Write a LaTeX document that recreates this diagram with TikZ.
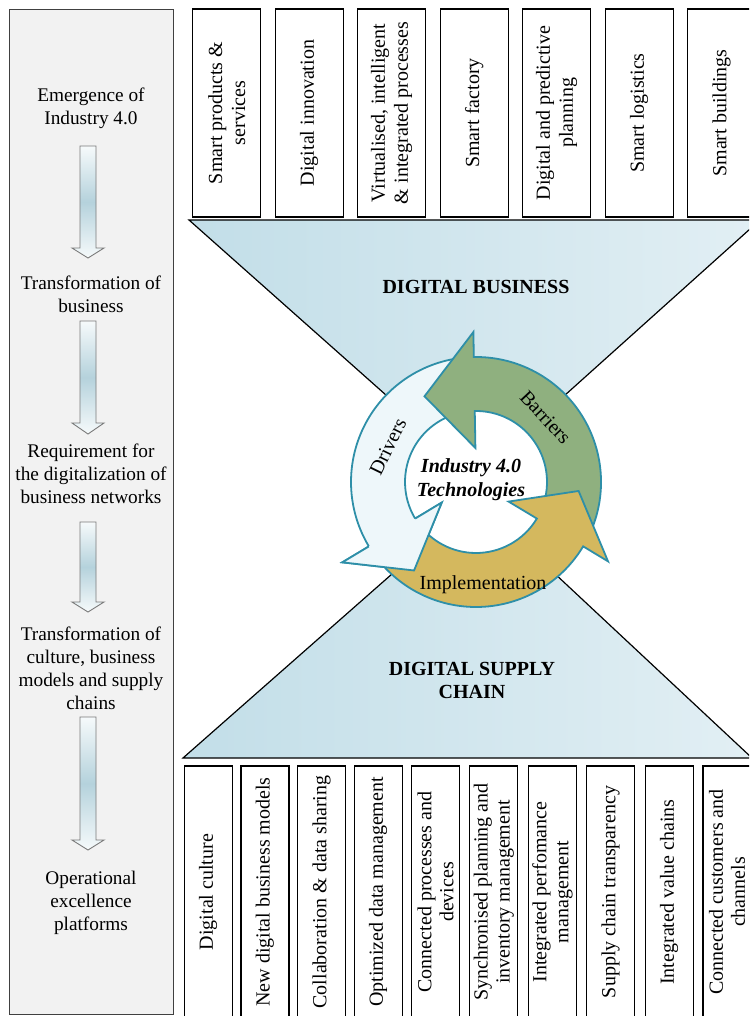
\documentclass[tikz,border=0pt]{standalone}
\usepackage{fontspec}
\setmainfont{Liberation Serif}
\usetikzlibrary{calc}
\definecolor{panelgray}{HTML}{F2F2F2}
\definecolor{panelline}{HTML}{404040}
\definecolor{ringline}{HTML}{2E8FA8}
\definecolor{drvfill}{HTML}{EEF7FA}
\definecolor{barfill}{HTML}{8FB07F}
\definecolor{impfill}{HTML}{D4B85E}
\definecolor{triA}{HTML}{C2DEE8}
\definecolor{triB}{HTML}{E2EFF4}
\definecolor{arrmid}{HTML}{B5D2DC}
\definecolor{arrtop}{HTML}{F6FAFB}
\definecolor{arrline}{HTML}{7A7A7A}
\newcommand\blkarrow[3]{%
  \path[draw=arrline, line width=0.9pt, top color=arrtop, bottom color=arrtop, middle color=arrmid]
    (80,#1) -- (96,#1) -- (96,#2) -- (104,#2) -- (88,#3) -- (72,#2) -- (80,#2) -- cycle;}
\begin{document}
\begin{tikzpicture}[x=1pt,y=-1pt,
  tbox/.style={draw=black, line width=1.3pt, fill=white, rotate=90,
    minimum width=208pt, minimum height=68pt, inner sep=0pt, align=center,
    font=\fontsize{20}{23}\selectfont},
  bbox/.style={draw=black, line width=1.3pt, fill=white, rotate=90,
    minimum width=252pt, minimum height=48pt, inner sep=0pt, align=center,
    font=\fontsize{20}{22}\selectfont},
  lefttext/.style={align=center, inner sep=0pt, font=\fontsize{19.3}{23}\selectfont},
  heading/.style={align=center, inner sep=0pt, font=\fontsize{20}{23}\selectfont\bfseries},
  ringtext/.style={inner sep=0pt, font=\fontsize{20}{23}\selectfont},
  arrowring/.style={draw=ringline, line width=1.8pt},
  triangle/.style={draw=black, line width=1.2pt, left color=triA, right color=triB}
]
\useasboundingbox (0,0) rectangle (749,1016);
\clip (0,0) rectangle (749,1016);

% left panel
\node[draw=panelline, line width=1.2pt, fill=panelgray, minimum width=164pt,
  minimum height=1005pt, anchor=north west, inner sep=0pt] (panel) at (9,9) {};
\node[lefttext] (l1) at (91,108) {Emergence of\\Industry 4.0};
\node[lefttext] (l2) at (91,294) {Transformation of\\business};
\node[lefttext] (l3) at (91,474) {Requirement for\\the digitalization of\\business networks};
\node[lefttext] (l4) at (91,668) {Transformation of\\culture, business\\models and supply\\chains};
\node[lefttext] (l5) at (91,903) {Operational\\excellence\\platforms};
\blkarrow{146}{248}{258}
\blkarrow{321}{423}{434}
\blkarrow{522}{602}{612}
\blkarrow{717}{840}{850}

% hourglass
\path[triangle] (189,220) -- (760,220) -- (476,475) -- cycle;
\path[triangle] (183,758) -- (752,758) -- (476,500) -- cycle;

% top boxes
\node[tbox] (t1) at (226.7,113) {Smart products \&\\services};
\node[tbox] (t2) at (309.2,113) {Digital innovation};
\node[tbox] (t3) at (391.7,113) {Virtualised, intelligent\\\& integrated processes};
\node[tbox] (t4) at (474.2,113) {Smart factory};
\node[tbox] (t5) at (556.7,113) {Digital and predictive\\planning};
\node[tbox] (t6) at (639.2,113) {Smart logistics};
\node[tbox] (t7) at (721.7,113) {Smart buildings};

% bottom boxes
\node[bbox] (b1) at (208.2,892) {Digital culture};
\node[bbox] (b2) at (264.9,892) {New digital business models};
\node[bbox] (b3) at (321.7,892) {Collaboration \& data sharing};
\node[bbox] (b4) at (378.2,892) {Optimized data management};
\node[bbox] (b5) at (435.5,892) {Connected processes and\\devices};
\node[bbox] (b6) at (493.8,892) {Synchronised planning and\\inventory management};
\node[bbox] (b7) at (552.5,892) {Integrated perfomance\\management};
\node[bbox] (b8) at (610.5,892) {Supply chain transparency};
\node[bbox] (b9) at (669.2,892) {Integrated value chains};
\node[bbox] (b10) at (726.9,892) {Connected customers and\\channels};

% headings
\node[heading] (db) at (476,287) {DIGITAL BUSINESS};
\node[heading] (dsc) at (472,680) {DIGITAL SUPPLY\\CHAIN};

% cycle
\coordinate (C) at (476,482);
\fill[white] (C) circle[radius=125];
% Drivers
\path[arrowring, fill=drvfill] ($(C)+(-96:125)$) arc[start angle=-96, end angle=-211, radius=125]
  -- ($(C)+(-211:156)$) -- ($(C)+(-235:108)$) -- ($(C)+(-211:40)$) -- ($(C)+(-211:71)$)
  arc[start angle=-211, end angle=-96, radius=71] -- cycle;
% Barriers
\path[arrowring, fill=barfill] ($(C)+(-334:125)$) arc[start angle=-334, end angle=-451, radius=125]
  -- ($(C)+(-91:150)$) -- ($(C)+(-121:100)$) -- ($(C)+(-91:34)$) -- ($(C)+(-91:71)$)
  arc[start angle=-451, end angle=-334, radius=71] -- cycle;
% Implementation
\path[arrowring, fill=impfill] ($(C)+(-216:125)$) arc[start angle=-216, end angle=-329, radius=125]
  -- ($(C)+(-329:154)$) -- ($(C)+(-355:103)$) -- ($(C)+(-329:38)$) -- ($(C)+(-329:71)$)
  arc[start angle=-329, end angle=-216, radius=71] -- cycle;
% Drivers head on top
\fill[drvfill] ($(C)+(-211:156)$) -- ($(C)+(-235:108)$) -- ($(C)+(-211:40)$) -- cycle;
\draw[arrowring] ($(C)+(-211:125)$) -- ($(C)+(-211:156)$) -- ($(C)+(-235:108)$)
  -- ($(C)+(-211:40)$) -- ($(C)+(-211:71)$);

\node[ringtext, rotate=64] (drv) at ($(C)+(-158:95)$) {Drivers};
\node[ringtext, rotate=-47] (bar) at ($(C)+(-43:95)$) {Barriers};
\node[ringtext] (imp) at (483,585) {Implementation};
\node[heading, font=\fontsize{20}{24}\selectfont\bfseries\itshape] (tech) at (471,480) {Industry 4.0\\Technologies};
\end{tikzpicture}
\end{document}
